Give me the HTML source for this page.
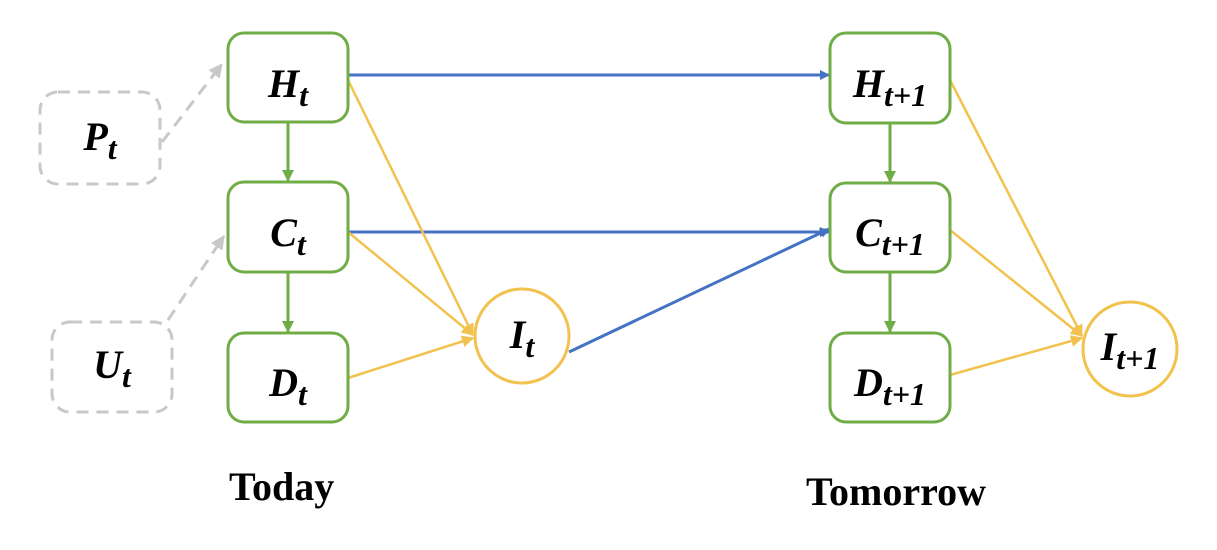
<!DOCTYPE html>
<html><head><meta charset="utf-8"><style>
html,body{margin:0;padding:0;background:#fff;}
svg{display:block;}
.lbl{font-family:"Liberation Serif",serif;font-weight:bold;font-style:italic;font-size:40px;fill:#000;}
.sub{font-size:32px;}
.cap{font-family:"Liberation Serif",serif;font-weight:bold;font-size:40px;fill:#000;}
</style></head><body>
<svg width="1217" height="550" viewBox="0 0 1217 550">
<defs>
<marker id="ab" markerWidth="10" markerHeight="10" refX="9" refY="5" orient="auto" markerUnits="userSpaceOnUse"><path d="M0,0 L10,5 L0,10z" fill="#4472C4"/></marker>
<marker id="ag" markerWidth="12" markerHeight="12" refX="11" refY="6" orient="auto" markerUnits="userSpaceOnUse"><path d="M0,0 L12,6 L0,12z" fill="#70AD47"/></marker>
<marker id="ay" markerWidth="12" markerHeight="12" refX="11" refY="6" orient="auto" markerUnits="userSpaceOnUse"><path d="M0,0 L12,6 L0,12z" fill="#F2C24F"/></marker>
<marker id="ad" markerWidth="14" markerHeight="14" refX="13" refY="7" orient="auto" markerUnits="userSpaceOnUse"><path d="M0,0 L14,7 L0,14z" fill="#C8C8C8"/></marker>
</defs>
<g fill="none" stroke-width="3">
<line x1="348" y1="75" x2="829" y2="75" stroke="#4472C4" marker-end="url(#ab)"/>
<line x1="348" y1="232" x2="829" y2="232" stroke="#4472C4" marker-end="url(#ab)"/>
<line x1="569" y1="352" x2="829" y2="229" stroke="#4472C4" marker-end="url(#ab)"/>
<line x1="288" y1="122" x2="288" y2="181" stroke="#70AD47" marker-end="url(#ag)"/>
<line x1="288" y1="272" x2="288" y2="332" stroke="#70AD47" marker-end="url(#ag)"/>
<line x1="890" y1="123" x2="890" y2="182" stroke="#70AD47" marker-end="url(#ag)"/>
<line x1="890" y1="272" x2="890" y2="332" stroke="#70AD47" marker-end="url(#ag)"/>
<g stroke="#F2C24F" stroke-width="2.5">
<line x1="348" y1="80" x2="473" y2="335" marker-end="url(#ay)"/>
<line x1="348" y1="232" x2="473" y2="335" marker-end="url(#ay)"/>
<line x1="348" y1="378" x2="473" y2="338" marker-end="url(#ay)"/>
<line x1="950" y1="80" x2="1082" y2="336" marker-end="url(#ay)"/>
<line x1="950" y1="230" x2="1082" y2="336" marker-end="url(#ay)"/>
<line x1="950" y1="375" x2="1082" y2="338" marker-end="url(#ay)"/>
</g>
<g stroke="#C8C8C8" stroke-dasharray="12,8">
<line x1="162" y1="142" x2="222" y2="64" marker-end="url(#ad)"/>
<line x1="168" y1="320" x2="224" y2="236" marker-end="url(#ad)"/>
<rect x="40" y="92" width="120" height="92" rx="18"/>
<rect x="52" y="322" width="120" height="90" rx="18"/>
</g>
<g stroke="#70AD47" fill="#fff">
<rect x="228" y="33" width="120" height="89" rx="16"/>
<rect x="228" y="182" width="120" height="90" rx="16"/>
<rect x="228" y="333" width="120" height="89" rx="16"/>
<rect x="830" y="33" width="120" height="90" rx="16"/>
<rect x="830" y="183" width="120" height="89" rx="16"/>
<rect x="830" y="333" width="120" height="89" rx="16"/>
</g>
<circle cx="522" cy="336" r="47" stroke="#F2C24F" fill="#fff"/>
<circle cx="1130" cy="349" r="47" stroke="#F2C24F" fill="#fff"/>
</g>
<g class="lbl" text-anchor="middle">
<text x="100" y="150">P<tspan class="sub" dy="9">t</tspan></text>
<text x="112" y="378">U<tspan class="sub" dy="9">t</tspan></text>
<text x="288" y="97">H<tspan class="sub" dy="9">t</tspan></text>
<text x="288" y="246">C<tspan class="sub" dy="9">t</tspan></text>
<text x="288" y="396">D<tspan class="sub" dy="9">t</tspan></text>
<text x="522" y="348">I<tspan class="sub" dy="9">t</tspan></text>
<text x="890" y="97">H<tspan class="sub" dy="9">t+1</tspan></text>
<text x="890" y="246">C<tspan class="sub" dy="9">t+1</tspan></text>
<text x="890" y="396">D<tspan class="sub" dy="9">t+1</tspan></text>
<text x="1130" y="360">I<tspan class="sub" dy="9">t+1</tspan></text>
</g>
<text class="cap" x="229" y="500">Today</text>
<text class="cap" x="806" y="505">Tomorrow</text>
</svg>
</body></html>
